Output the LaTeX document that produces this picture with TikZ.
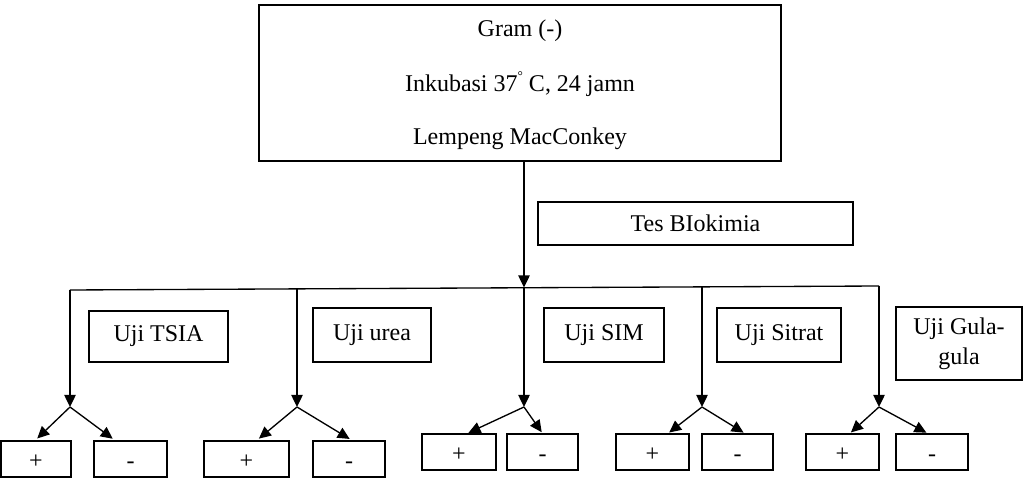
\documentclass[tikz,border=0pt]{standalone}
\usepackage{fontspec}
\setmainfont{Liberation Serif}
\usetikzlibrary{arrows.meta,calc}
\begin{document}
\begin{tikzpicture}[x=0.75pt,y=-0.75pt,
  box/.style={draw,line width=1pt,inner sep=0pt,align=center,font=\fontsize{18}{22.5}\selectfont},
  res/.style={box,minimum height=27pt,text height=16pt,text depth=1pt},
  txt/.style={inner sep=0pt,font=\fontsize{18}{22}\selectfont},
  arr/.style={line width=1pt,-{Triangle[length=9pt,width=8.5pt]}},
  ln/.style={line width=1pt}]
\useasboundingbox (0,0) rectangle (1025,484);
% top box
\node[box,minimum width=391.5pt,minimum height=117pt] (top) at (520,83) {};
\node[txt] (t1) at (520,31) {Gram (-)};
\node[txt] (t2) at (520,84) {Inkubasi 37\raisebox{0.45em}{\fontsize{10}{12}\selectfont °} C, 24 jamn};
\node[txt] (t3) at (520,139) {Lempeng MacConkey};
\node[box,minimum width=236.25pt,minimum height=32.25pt] (tes) at (695.5,223.5) {Tes BIokimia};
% label boxes
\node[box,minimum width=104.25pt,minimum height=38.25pt] (tsia) at (158.5,336.5) {Uji TSIA};
\node[box,minimum width=88.5pt,minimum height=40.5pt] (urea) at (372,335) {\raisebox{3pt}{Uji urea}};
\node[box,minimum width=90pt,minimum height=40.5pt] (sim) at (604,335) {\raisebox{3pt}{Uji SIM}};
\node[box,minimum width=93pt,minimum height=40.5pt] (sitrat) at (779,335) {\raisebox{3pt}{Uji Sitrat}};
\node[box,minimum width=94.5pt,minimum height=54.75pt] (gula) at (959,343.5) {Uji Gula-\\gula};
% result boxes
\node[res,minimum width=52.5pt] (p1) at (36,459) {+};
\node[res,minimum width=54.75pt] (m1) at (130.5,459) {-};
\node[res,minimum width=63.75pt] (p2) at (246.5,459) {+};
\node[res,minimum width=54pt] (m2) at (349,459) {-};
\node[res,minimum width=55.5pt] (p3) at (459,452) {+};
\node[res,minimum width=53.25pt] (m3) at (542.5,452) {-};
\node[res,minimum width=54.75pt] (p4) at (652.5,452) {+};
\node[res,minimum width=53.25pt] (m4) at (737.5,452) {-};
\node[res,minimum width=54.75pt] (p5) at (842.5,452) {+};
\node[res,minimum width=54pt] (m5) at (932,452) {-};
% junctions
\coordinate (j1) at (70,290);
\coordinate (j2) at (297,289);
\coordinate (j3) at (524,287.5);
\coordinate (j4) at (702,286.7);
\coordinate (j5) at (879,286);
\coordinate (b1) at (70,407);
\coordinate (b2) at (297,407);
\coordinate (b3) at (524,407);
\coordinate (b4) at (702,407);
\coordinate (b5) at (879,407);
% connectors
\draw[arr] (top.south -| j3) -- (j3);
\draw[ln] (j1) -- (j5);
\foreach \i in {1,...,5} {\draw[arr] (j\i) -- (b\i);}
\draw[arr,shorten >=2pt] (b1) -- ($(p1.north west)!0.49!(p1.north east)$);
\draw[arr,shorten >=2pt] (b1) -- ($(m1.north west)!0.29!(m1.north east)$);
\draw[arr,shorten >=2pt] (b2) -- ($(p2.north west)!0.62!(p2.north east)$);
\draw[arr,shorten >=2pt] (b2) -- ($(m2.north west)!0.54!(m2.north east)$);
\draw[arr,shorten >=1pt] (b3) -- ($(p3.north west)!0.61!(p3.north east)$);
\draw[arr,shorten >=1pt] (b3) -- ($(m3.north west)!0.5!(m3.north east)$);
\draw[arr,shorten >=1pt] (b4) -- ($(p4.north west)!0.71!(p4.north east)$);
\draw[arr,shorten >=1pt] (b4) -- ($(m4.north west)!0.6!(m4.north east)$);
\draw[arr,shorten >=1pt] (b5) -- ($(p5.north west)!0.6!(p5.north east)$);
\draw[arr,shorten >=1pt] (b5) -- ($(m5.north west)!0.44!(m5.north east)$);
\end{tikzpicture}
\end{document}
